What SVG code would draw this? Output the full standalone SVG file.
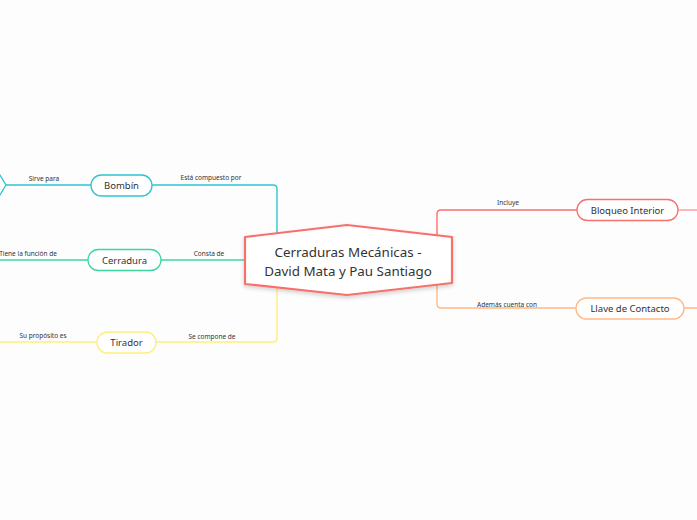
<svg xmlns="http://www.w3.org/2000/svg" width="697" height="520" viewBox="0 0 697 520">
<defs>
<style>
.bg{fill:#fdfdfd}
.c{fill:none;stroke-width:1.4;stroke-linejoin:round;stroke-linecap:round}
.lbl{font-family:"Noto Sans",sans-serif;font-size:6.5px;fill:#333;text-anchor:middle}
.nt{font-family:"Noto Sans",sans-serif;font-size:9.5px;fill:#333;text-anchor:middle;dominant-baseline:central}
.node{fill:#fff;stroke-width:1.3}
.center{font-family:"Noto Sans",sans-serif;font-size:13.4px;fill:#333;text-anchor:middle}
</style>
<filter id="sh" x="-10%" y="-20%" width="120%" height="150%">
<feDropShadow dx="0" dy="2" stdDeviation="2" flood-color="#000" flood-opacity="0.18"/>
</filter>
</defs>
<rect class="bg" x="0" y="0" width="697" height="520"/>
<g id="connectors">
<path class="c" stroke="#2ec5d3" d="M152,185 H273 Q277,185 277,189 V240"/>
<path class="c" stroke="#3dd6a3" d="M161,260 H246"/>
<path class="c" stroke="#fdef7a" d="M156,342 H273 Q277,342 277,338 V285"/>
<path class="c" stroke="#f7706b" d="M437,240 V214 Q437,210 441,210 H577"/>
<path class="c" stroke="#ffb886" d="M437,282 V304 Q437,308 441,308 H576"/>
<path class="c" stroke="#2ec5d3" d="M91,185 H6"/>
<polyline class="c" stroke="#2ec5d3" points="0,175 6,185 0,195"/>
<path class="c" stroke="#3dd6a3" d="M88,260 H0"/>
<path class="c" stroke="#fdef7a" d="M97,342 H0"/>
<path class="c" stroke="#fba1a1" d="M678,210 H697"/>
<path class="c" stroke="#ffb886" d="M684,308 H697"/>
<text class="lbl" x="211" y="180">Está compuesto por</text>
<text class="lbl" x="209" y="256">Consta de</text>
<text class="lbl" x="212" y="339">Se compone de</text>
<text class="lbl" x="44" y="181">Sirve para</text>
<text class="lbl" x="28" y="256">Tiene la función de</text>
<text class="lbl" x="43" y="338">Su propósito es</text>
<text class="lbl" x="508" y="205">Incluye</text>
<text class="lbl" x="507" y="307">Además cuenta con</text>
</g>
<g id="center">
<path d="M245,237 L347,225 L452,237 L452,283 L347,295 L245,284 Z" fill="#fff" stroke="#f7706b" stroke-width="2.2" stroke-linejoin="round" filter="url(#sh)"/>
<text class="center" x="348" y="257">Cerraduras Mecánicas -</text>
<text class="center" x="348" y="276">David Mata y Pau Santiago</text>
</g>
<g id="bombin">
<rect class="node" x="91" y="175" width="61" height="21" rx="10.5" stroke="#2ec5d3"/>
<text class="nt" x="121.5" y="185.5">Bombín</text>
</g>
<g id="cerradura">
<rect class="node" x="88" y="249.5" width="73" height="21" rx="10.5" stroke="#3dd6a3"/>
<text class="nt" x="124.5" y="260">Cerradura</text>
</g>
<g id="tirador">
<rect class="node" x="97" y="332" width="59" height="21" rx="10.5" stroke="#fdef7a"/>
<text class="nt" x="126.5" y="342.5">Tirador</text>
</g>
<g id="bloqueo">
<rect class="node" x="577" y="199.5" width="101" height="21" rx="10.5" stroke="#f7706b"/>
<text class="nt" x="627.5" y="210">Bloqueo Interior</text>
</g>
<g id="llave">
<rect class="node" x="576" y="298" width="108" height="21" rx="10.5" stroke="#ffb886"/>
<text class="nt" x="630" y="308.5">Llave de Contacto</text>
</g>
</svg>
